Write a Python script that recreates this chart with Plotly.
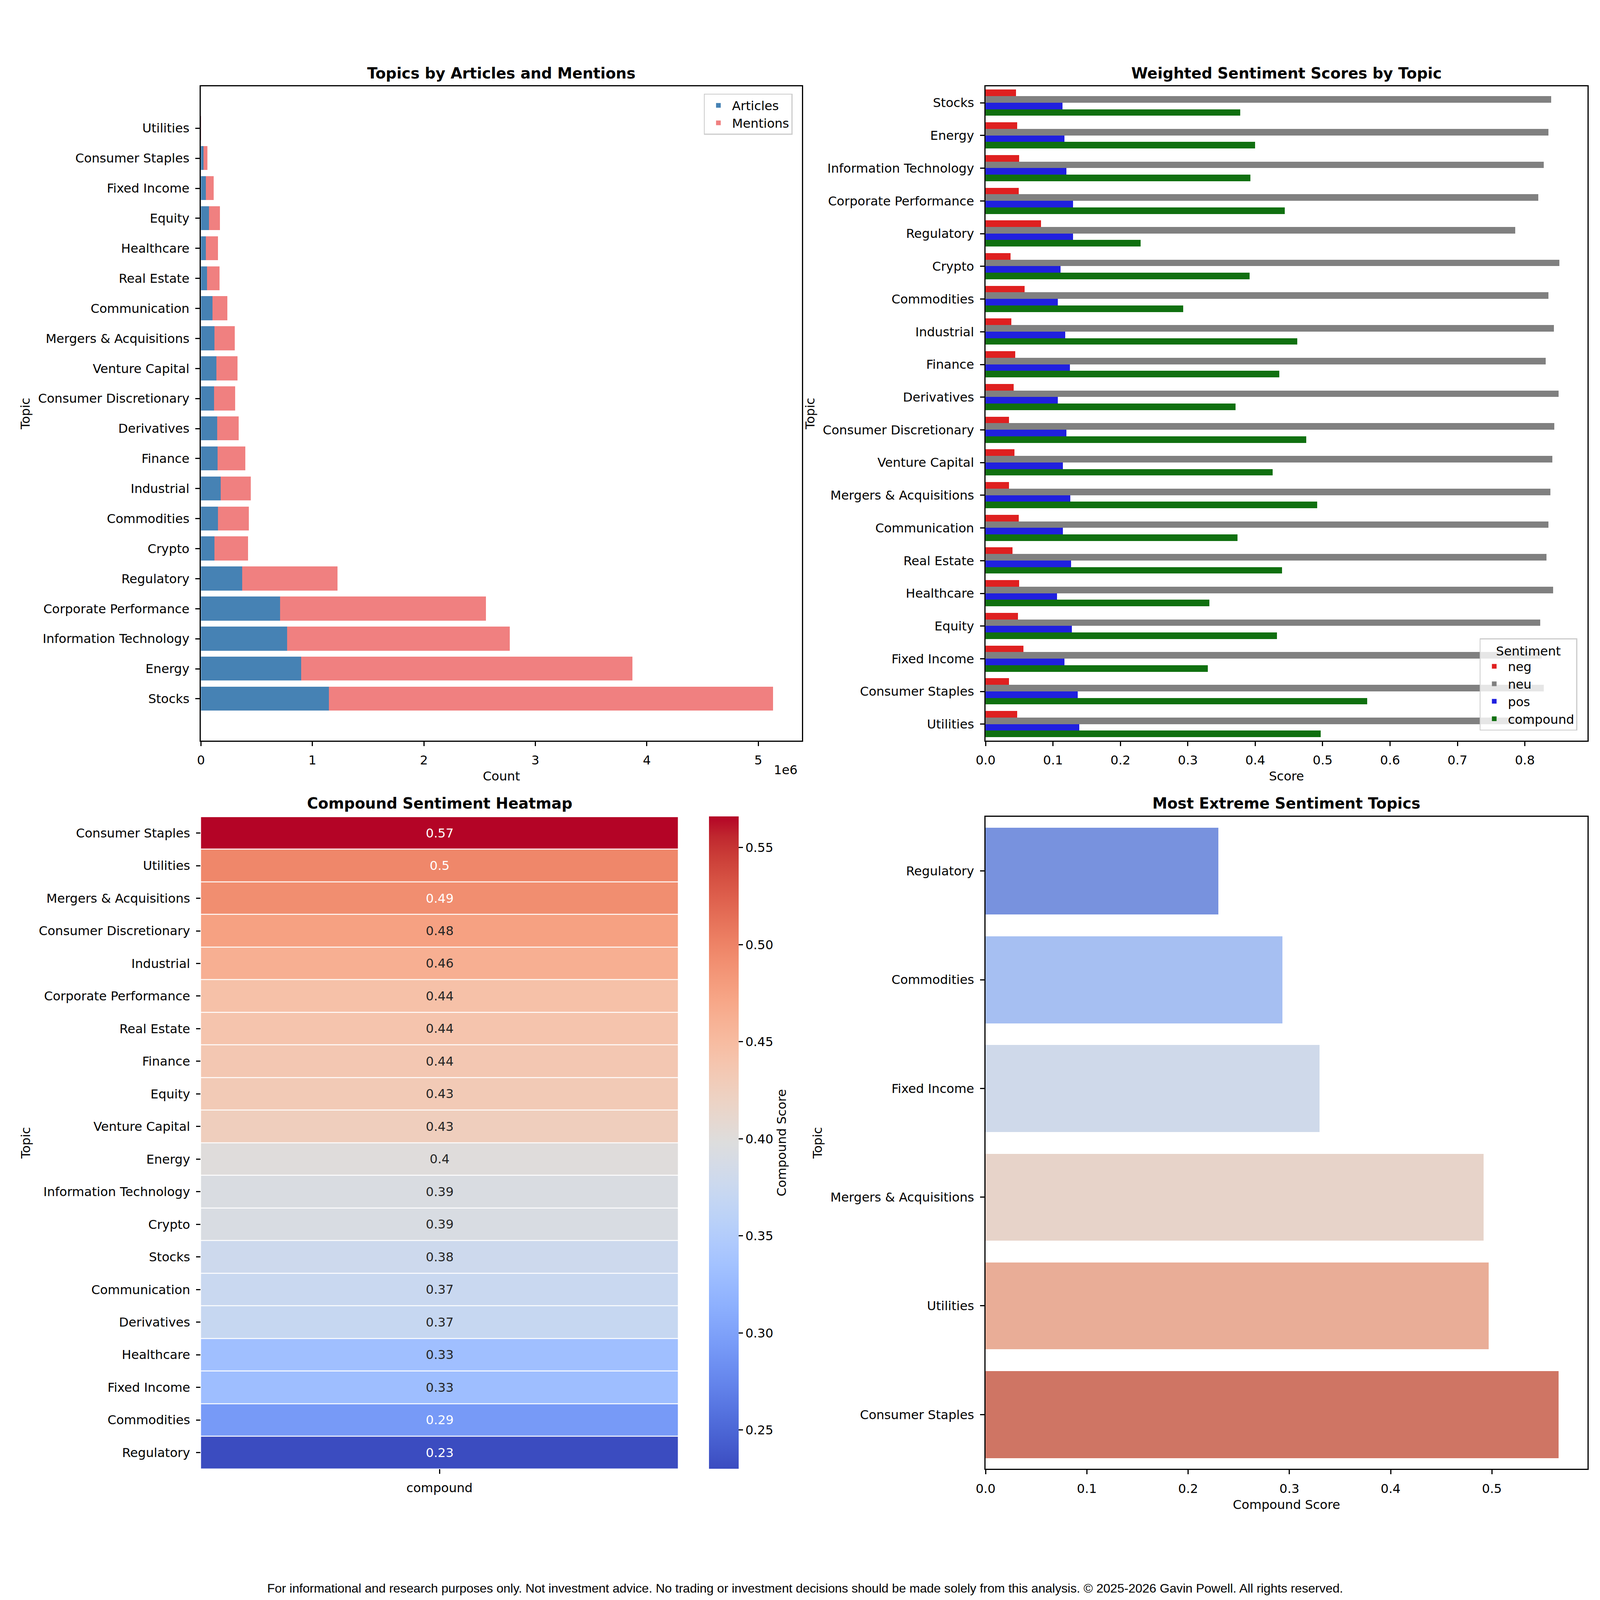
import plotly.graph_objects as go

# ---------------- data ----------------
topics = ["Stocks", "Energy", "Information Technology", "Corporate Performance", "Regulatory",
          "Crypto", "Commodities", "Industrial", "Finance", "Derivatives",
          "Consumer Discretionary", "Venture Capital", "Mergers & Acquisitions", "Communication",
          "Real Estate", "Healthcare", "Equity", "Fixed Income", "Consumer Staples", "Utilities"]
articles = [1151000, 901000, 773000, 710000, 373000, 123000, 155000, 177000, 150000, 146000,
            118000, 141000, 123000, 105000, 55000, 45000, 73000, 45000, 25000, 500]
mentions = [3981000, 2971000, 1998000, 1847000, 855000, 300000, 277000, 273000, 250000, 195000,
            192000, 190000, 182000, 132000, 113000, 110000, 100000, 69000, 34000, 800]

neg = [0.045, 0.047, 0.050, 0.049, 0.082, 0.037, 0.058, 0.038, 0.044, 0.042,
       0.035, 0.043, 0.035, 0.049, 0.040, 0.050, 0.048, 0.056, 0.035, 0.047]
neu = [0.839, 0.835, 0.828, 0.820, 0.786, 0.851, 0.835, 0.843, 0.831, 0.850,
       0.844, 0.841, 0.838, 0.835, 0.832, 0.842, 0.823, 0.825, 0.828, 0.814]
pos = [0.114, 0.117, 0.120, 0.130, 0.130, 0.111, 0.107, 0.118, 0.125, 0.107,
       0.120, 0.115, 0.126, 0.115, 0.127, 0.106, 0.128, 0.117, 0.137, 0.139]
compound = [0.378, 0.400, 0.393, 0.444, 0.230, 0.392, 0.293, 0.4625, 0.436, 0.371,
            0.476, 0.426, 0.492, 0.374, 0.440, 0.332, 0.432, 0.330, 0.566, 0.497]

count_ticks = [0, 1, 2, 3, 4, 5]
score_ticks = [0.0, 0.1, 0.2, 0.3, 0.4, 0.5, 0.6, 0.7, 0.8]
extreme_ticks = [0.0, 0.1, 0.2, 0.3, 0.4, 0.5]
cbar_ticks = [0.25, 0.30, 0.35, 0.40, 0.45, 0.50, 0.55]

footer = ("For informational and research purposes only. Not investment advice. No trading or "
          "investment decisions should be made solely from this analysis. \u00a9 2025-2026 Gavin Powell. "
          "All rights reserved.")

# ---------------- styles ----------------
# the browser viewport is capped at 4096 px, so the figure fills it (minus the 8px body margin)
W, H = 4080, 4080
S = 0.77                      # scale of pixel sizes relative to the 5400 px original
FONT = "DejaVu Sans"
FS = 41.7 * S
TITLE_FS = 50 * S
LW = 3.3 * S
TL = 14.6 * S
sent_colors = {"neg": "#DF2020", "neu": "#808080", "pos": "#2020DF", "compound": "#107010"}
extreme_palette = ["#7892DE", "#A6BFF2", "#CFD9EA", "#E7D3C9", "#E9AD97", "#CF7564"]

coolwarm_pts = [
    (59, 76, 192), (68, 90, 204), (77, 104, 215), (87, 117, 225), (98, 130, 234), (108, 142, 241),
    (119, 154, 247), (130, 165, 251), (141, 176, 254), (152, 185, 255), (163, 194, 255),
    (174, 201, 253), (184, 208, 249), (194, 213, 244), (204, 217, 238), (213, 219, 230),
    (221, 221, 221), (229, 216, 209), (236, 211, 197), (241, 204, 185), (245, 196, 173),
    (247, 187, 160), (247, 177, 148), (247, 166, 135), (244, 154, 123), (241, 141, 111),
    (236, 127, 99), (229, 112, 88), (222, 96, 77), (213, 80, 66), (203, 62, 56), (192, 40, 47),
    (180, 4, 38)]
n_cw = len(coolwarm_pts)
coolwarm = [[i / (n_cw - 1), "rgb(%d,%d,%d)" % c] for i, c in enumerate(coolwarm_pts)]


def cw_color(t):
    t = min(max(t, 0.0), 1.0) * (n_cw - 1)
    i = min(int(t), n_cw - 2)
    f = t - i
    a, b = coolwarm_pts[i], coolwarm_pts[i + 1]
    return [a[k] + (b[k] - a[k]) * f for k in range(3)]


def rel_lum(rgb):
    out = []
    for c in rgb:
        c = c / 255.0
        out.append(c / 12.92 if c <= 0.03928 else ((c + 0.055) / 1.055) ** 2.4)
    return 0.2126 * out[0] + 0.7152 * out[1] + 0.0722 * out[2]


# derived orders
heat_pairs = sorted(zip(compound, topics), reverse=True)
heat_vals = [p[0] for p in heat_pairs]
heat_topics = [p[1] for p in heat_pairs]
asc = sorted(zip(compound, topics))
ext_pairs = asc[:3] + asc[-3:]
ext_vals = [p[0] for p in ext_pairs]
ext_topics = [p[1] for p in ext_pairs]
zmin, zmax = min(compound), max(compound)

fig = go.Figure()

# ---- panel 1: articles & mentions ----
fig.add_trace(go.Bar(x=articles, y=topics, orientation="h", width=0.8, offset=-0.4,
                     marker=dict(color="#4682B4", line=dict(width=0)), name="Articles",
                     xaxis="x", yaxis="y", legend="legend"))
fig.add_trace(go.Bar(x=mentions, y=topics, base=articles, orientation="h", width=0.8, offset=-0.4,
                     marker=dict(color="#F08080", line=dict(width=0)), name="Mentions",
                     xaxis="x", yaxis="y", legend="legend"))

# ---- panel 2: weighted sentiment ----
for name, vals, off in [("neg", neg, -0.4), ("neu", neu, -0.2), ("pos", pos, 0.0), ("compound", compound, 0.2)]:
    fig.add_trace(go.Bar(x=vals, y=topics, orientation="h", width=0.2, offset=off,
                         marker=dict(color=sent_colors[name], line=dict(width=0)), name=name,
                         xaxis="x2", yaxis="y2", legend="legend2"))

# ---- panel 3: heatmap ----
fig.add_trace(go.Heatmap(z=[[v] for v in heat_vals], x=["compound"], y=heat_topics,
                         colorscale=coolwarm, zmin=zmin, zmax=zmax, ygap=2.5, xgap=0,
                         xaxis="x3", yaxis="y3", showscale=True, hoverinfo="skip",
                         colorbar=dict(x=0.4393, xanchor="left", y=0.0803, yanchor="bottom",
                                       len=0.4092, lenmode="fraction", thickness=101 * 0.7556,
                                       thicknessmode="pixels", outlinewidth=0, xpad=0, ypad=0,
                                       ticks="outside", ticklen=TL, tickwidth=LW, tickcolor="black",
                                       tickvals=cbar_ticks, ticktext=["%.2f" % t for t in cbar_ticks],
                                       tickfont=dict(size=FS, family=FONT, color="black"),
                                       title=dict(text="Compound Score", side="right",
                                                  font=dict(size=FS, family=FONT, color="black")))))

# ---- panel 4: extreme topics ----
fig.add_trace(go.Bar(x=ext_vals, y=ext_topics, orientation="h", width=0.8, offset=-0.4,
                     marker=dict(color=extreme_palette, line=dict(width=0)), showlegend=False,
                     xaxis="x4", yaxis="y4"))

ax = dict(showline=True, linecolor="black", linewidth=LW, mirror=True, ticks="outside",
          ticklen=TL, tickwidth=LW, tickcolor="black", showgrid=False, zeroline=False,
          tickfont=dict(size=FS, family=FONT, color="black"), ticklabelstandoff=9)


def ttl(t, standoff=12):
    return dict(text=t, font=dict(size=FS, family=FONT, color="black"), standoff=standoff)


TOP = [0.5373, 0.9477]
BOT = [0.0803, 0.4895]

fig.update_layout(
    width=W, height=H, margin=dict(l=0, r=0, t=0, b=0),
    paper_bgcolor="white", plot_bgcolor="white",
    font=dict(family=FONT, size=FS, color="black"),
    barmode="overlay", bargap=0,
    xaxis=dict(ax, domain=[0.1185, 0.498], anchor="y", range=[0, 5.391e6],
               tickvals=[t * 1e6 for t in count_ticks], ticktext=[str(t) for t in count_ticks],
               title=ttl("Count")),
    yaxis=dict(ax, domain=TOP, anchor="x", type="category", categoryorder="array",
               categoryarray=topics, range=[-1.39, 20.39], title=ttl("Topic")),
    xaxis2=dict(ax, domain=[0.614, 0.994], anchor="y2", range=[0, 0.8927],
                tickvals=score_ticks, ticktext=["%.1f" % t for t in score_ticks], title=ttl("Score")),
    yaxis2=dict(ax, domain=TOP, anchor="x2", type="category", categoryorder="array",
                categoryarray=topics, range=[19.5, -0.5], title=ttl("Topic")),
    xaxis3=dict(ax, domain=[0.1185, 0.4198], anchor="y3", showline=False, mirror=False),
    yaxis3=dict(ax, domain=BOT, anchor="x3", showline=False, mirror=False, type="category",
                categoryorder="array", categoryarray=heat_topics, autorange="reversed",
                title=ttl("Topic")),
    xaxis4=dict(ax, domain=[0.614, 0.994], anchor="y4", range=[0, 0.5943],
                tickvals=extreme_ticks, ticktext=["%.1f" % t for t in extreme_ticks],
                title=ttl("Compound Score")),
    yaxis4=dict(ax, domain=BOT, anchor="x4", type="category", categoryorder="array",
                categoryarray=ext_topics, range=[5.5, -0.5], title=ttl("Topic")),
    legend=dict(x=0.492, xanchor="right", y=0.9432, yanchor="top", bgcolor="rgba(255,255,255,0.8)",
                bordercolor="#cccccc", borderwidth=LW, font=dict(size=FS, family=FONT, color="black"),
                traceorder="normal", itemwidth=60, tracegroupgap=6),
    legend2=dict(x=0.9876, xanchor="right", y=0.5436, yanchor="bottom", bgcolor="rgba(255,255,255,0.8)",
                 bordercolor="#cccccc", borderwidth=LW, font=dict(size=FS, family=FONT, color="black"),
                 traceorder="normal", itemwidth=60,
                 title=dict(text="Sentiment", side="top center", font=dict(size=FS, family=FONT))),
)

annotations = []
# subplot titles
for text, xd, yd in [("Topics by Articles and Mentions", [0.1185, 0.498], TOP),
                     ("Weighted Sentiment Scores by Topic", [0.614, 0.994], TOP),
                     ("Compound Sentiment Heatmap", [0.1185, 0.4198], BOT),
                     ("Most Extreme Sentiment Topics", [0.614, 0.994], BOT)]:
    annotations.append(dict(text="<b>%s</b>" % text, x=(xd[0] + xd[1]) / 2, y=yd[1], xref="paper",
                            yref="paper", xanchor="center", yanchor="middle", yshift=34,
                            showarrow=False, font=dict(size=TITLE_FS, family=FONT, color="black")))
# offset text
annotations.append(dict(text="1e6", x=0.4957, y=0.5189, xref="paper", yref="paper", xanchor="right",
                        yanchor="middle", showarrow=False, font=dict(size=FS, family=FONT, color="black")))
# heatmap cell labels
for v, t in zip(heat_vals, heat_topics):
    lum = rel_lum(cw_color((v - zmin) / (zmax - zmin)))
    annotations.append(dict(text=format(v, ".2g"), x="compound", y=t, xref="x3", yref="y3",
                            showarrow=False,
                            font=dict(size=FS, family=FONT, color="#262626" if lum > 0.408 else "white")))
# footer
annotations.append(dict(text=footer, x=0.5, y=0.0055, xref="paper", yref="paper", xanchor="center",
                        yanchor="middle", showarrow=False,
                        font=dict(size=FS, family="Liberation Sans", color="black")))
fig.update_layout(annotations=annotations)

fig.write_html("out.html")
